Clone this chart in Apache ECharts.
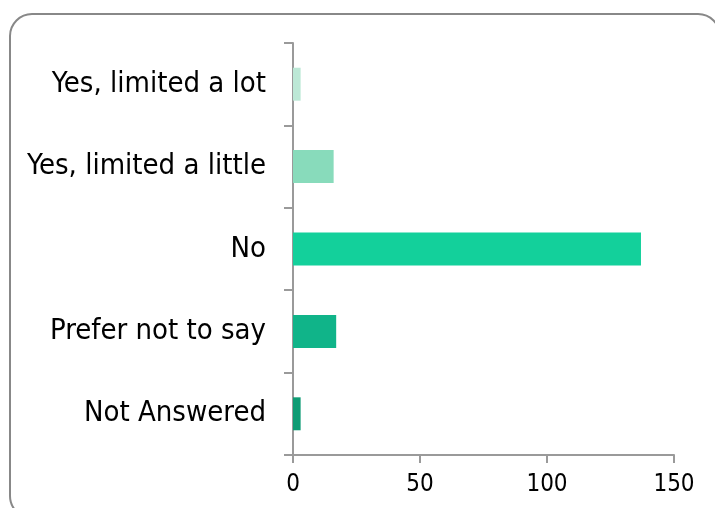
<!DOCTYPE html>
<html>
<head>
<meta charset="utf-8">
<script src="https://cdn.jsdelivr.net/npm/echarts@6/dist/echarts.min.js"></script>
<style>
html,body{margin:0;padding:0;background:#fff;}
#chart{width:715px;height:508px;}
</style>
</head>
<body>
<div id="chart"></div>
<script>
const categories = ["Yes, limited a lot", "Yes, limited a little", "No", "Prefer not to say", "Not Answered"];
const values = [3, 16, 137, 17, 3];
const barColors = ["#bce8d6", "#88dbbb", "#13d09b", "#10b489", "#0e9c74"];
const xTicks = [0, 50, 100, 150];

const chart = echarts.init(document.getElementById('chart'), null, {renderer: 'canvas'});
const font = '"DejaVu Sans Condensed", "DejaVu Sans", sans-serif';
chart.setOption({
  animation: false,
  graphic: [{
    type: 'rect',
    shape: {x: 10, y: 14, width: 710, height: 504, r: 22},
    style: {fill: 'none', stroke: '#888888', lineWidth: 2},
    z: -1
  }],
  grid: {left: 293, top: 43, right: 41, bottom: 53},
  xAxis: {
    type: 'value',
    min: xTicks[0], max: xTicks[xTicks.length - 1], interval: 50,
    axisLine: {show: true, lineStyle: {color: '#9a9a9a', width: 2}},
    axisTick: {show: true, length: 8, lineStyle: {color: '#9a9a9a', width: 2}},
    splitLine: {show: false},
    axisLabel: {color: '#000', fontSize: 24, fontFamily: font, margin: 18}
  },
  yAxis: {
    type: 'category',
    data: categories,
    inverse: true,
    axisLine: {show: true, lineStyle: {color: '#9a9a9a', width: 2}},
    axisTick: {show: true, length: 9, lineStyle: {color: '#9a9a9a', width: 2}},
    axisLabel: {color: '#000', fontSize: 29, fontFamily: font, margin: 27}
  },
  series: [{
    type: 'bar',
    data: values.map((v, i) => ({value: v, itemStyle: {color: barColors[i]}})),
    barCategoryGap: '60%'
  }]
});
</script>
</body>
</html>
